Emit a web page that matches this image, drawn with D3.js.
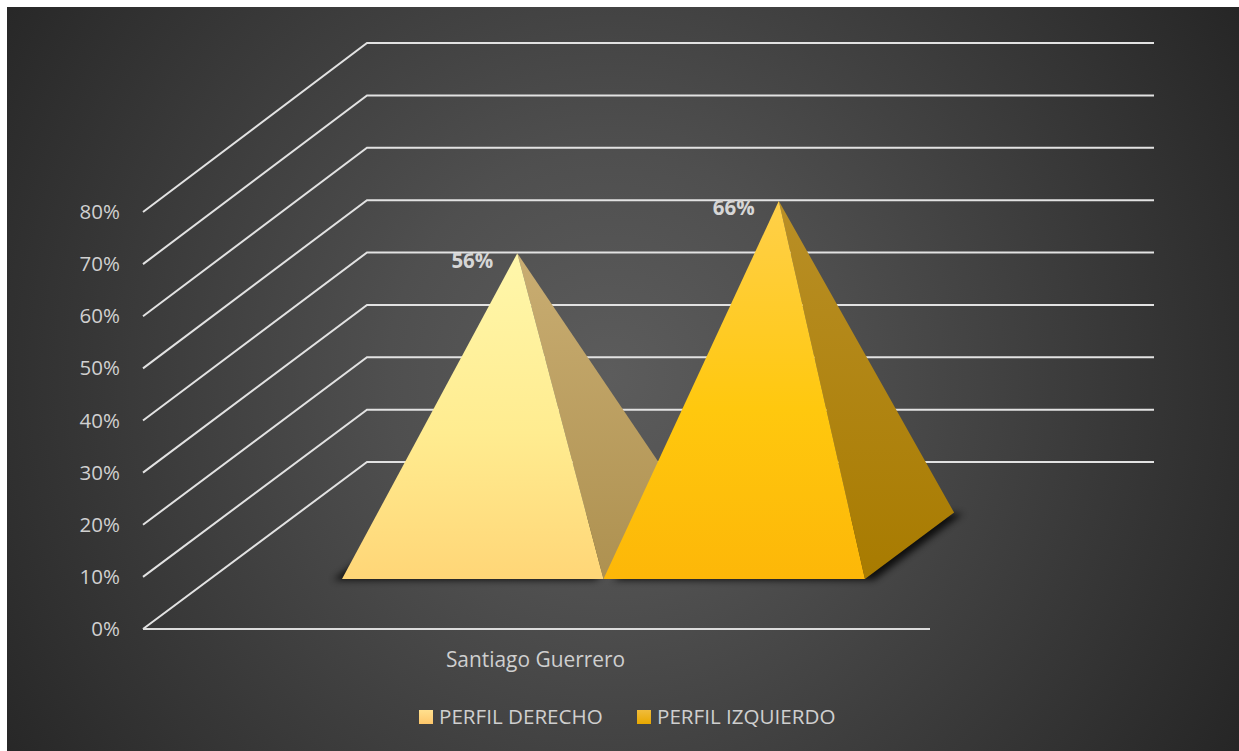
<!DOCTYPE html>
<html>
<head>
<meta charset="utf-8">
<script src="https://cdnjs.cloudflare.com/ajax/libs/d3/7.8.5/d3.min.js"></script>
<style>
html,body{margin:0;padding:0;background:#fff;overflow:hidden}
svg{display:block}
text{font-family:"Open Sans",sans-serif}
</style>
</head>
<body>
<svg id="chart" width="1239" height="751"></svg>
<script>
// Pyramid chart: right and left profile percentages for one person.
const categories = ["Santiago Guerrero"];
const seriesNames = ["PERFIL DERECHO", "PERFIL IZQUIERDO"];
const seriesValues = [56, 66];
const axisTicks = [0, 10, 20, 30, 40, 50, 60, 70, 80];

const svg = d3.select("#chart");
const defs = svg.append("defs");

// Projection: front and back planes have their own vertical scales, depth blends them
const y = d3.scaleLinear().domain([0, 80]).range([629, 212]);
const yBack = d3.scaleLinear().domain([0, 80]).range([462, 43]);
const categoryX = d3.scaleBand().domain(categories).range([143, 930]);
const seriesX = d3.scaleBand().domain(seriesNames)
  .range([categoryX(categories[0]), categoryX(categories[0]) + categoryX.bandwidth()])
  .paddingInner(0).paddingOuter(0.505);
const depthX = d3.scaleLinear().domain([0, 1]).range([0, 224]);
const baseDepth = { front: 0.299, back: 0.697 };

const project = (xPos, value, depth) => [
  xPos + depthX(depth),
  y(value) + (yBack(value) - y(value)) * depth
];

// Panel background
const bg = defs.append("radialGradient").attr("id", "panelBg")
  .attr("gradientUnits", "userSpaceOnUse")
  .attr("cx", 610).attr("cy", 375).attr("r", 740);
[[0, "#5c5c5c"], [0.3, "#4f4f4f"], [0.68, "#383838"], [1, "#252525"]].forEach(([o, c]) =>
  bg.append("stop").attr("offset", o).attr("stop-color", c));
svg.append("rect").attr("x", 7).attr("y", 7).attr("width", 1232).attr("height", 744)
  .attr("fill", "url(#panelBg)");

// Gridlines on the side wall and the back wall
const wallLine = d3.line();
const xFront = categoryX.range();
svg.append("g").selectAll("path").data(axisTicks).join("path")
  .attr("d", v => wallLine([project(xFront[0], v, 0), project(xFront[0], v, 1), project(xFront[1], v, 1)]))
  .attr("fill", "none").attr("stroke", "#e2e2e2").attr("stroke-width", 2);

// Front edge of the floor
svg.append("path")
  .attr("d", wallLine([project(xFront[0], 0, 0), project(xFront[1], 0, 0)]))
  .attr("fill", "none").attr("stroke", "#dcdcdc").attr("stroke-width", 2);

// Value axis
const axis = d3.axisLeft(y).tickValues(axisTicks).tickFormat(d => d + "%").tickSize(0).tickPadding(23);
const axisG = svg.append("g").attr("transform", `translate(${xFront[0]},0)`).call(axis);
axisG.select(".domain").remove();
axisG.selectAll("text").attr("fill", "#d0d0d0").style("font-size", "20.5px").style("font-family", '"Open Sans",sans-serif');

// Soft shadow under the pyramids
const blur = defs.append("filter").attr("id", "baseShadow")
  .attr("x", "-20%").attr("y", "-20%").attr("width", "140%").attr("height", "140%");
blur.append("feGaussianBlur").attr("stdDeviation", 3.5);

// Face gradients per series
const faceColors = [
  { front: [[0, "#fff7ab"], [0.55, "#ffec90"], [1, "#ffd677"]], side: [[0, "#c9ad72"], [1, "#ae9150"]] },
  { front: [[0, "#ffd04a"], [0.55, "#ffc80e"], [1, "#fdb708"]], side: [[0, "#b98f26"], [1, "#a87b00"]] }
];
seriesNames.forEach((name, i) => {
  ["front", "side"].forEach(face => {
    const g = defs.append("linearGradient").attr("id", `${face}${i}`)
      .attr("x1", 0).attr("y1", 0).attr("x2", 0).attr("y2", 1);
    faceColors[i][face].forEach(([o, c]) =>
      g.append("stop").attr("offset", o).attr("stop-color", c));
  });
});

const barWidth = seriesX.bandwidth();
const closed = pts => d3.line()(pts) + "Z";

const pyramids = svg.append("g").selectAll("g")
  .data(seriesNames.map((name, i) => ({ name, i, value: seriesValues[i] })))
  .join("g");

const corners = d => {
  const x0 = seriesX(d.name), x1 = x0 + barWidth;
  return {
    fl: project(x0, 0, baseDepth.front),
    fr: project(x1, 0, baseDepth.front),
    br: project(x1, 0, baseDepth.back),
    bl: project(x0, 0, baseDepth.back),
    apex: project(x0 + barWidth / 2, d.value, (baseDepth.front + baseDepth.back) / 2)
  };
};

// The shadow sits beneath every face
pyramids.append("path")
  .attr("d", d => {
    const c = corners(d);
    return closed([c.fl, c.fr, c.br, c.bl].map(([px, py]) => [px + (d.i ? 9 : -9), py + 1]));
  })
  .attr("fill", "#000").attr("opacity", 0.8).attr("filter", "url(#baseShadow)");

pyramids.append("path")
  .attr("d", d => { const c = corners(d); return closed([c.apex, c.fr, c.br]); })
  .attr("fill", d => `url(#side${d.i})`);

pyramids.append("path")
  .attr("d", d => { const c = corners(d); return closed([c.apex, c.fl, c.fr]); })
  .attr("fill", d => `url(#front${d.i})`);

// Value labels beside each apex
pyramids.append("text")
  .attr("x", d => corners(d).apex[0] - 24)
  .attr("y", d => corners(d).apex[1] + 14.5)
  .attr("text-anchor", "end")
  .attr("font-size", 20.5).attr("font-weight", 700)
  .attr("fill", "#d6d6d6")
  .text(d => d.value + "%");

// Category label
svg.append("text")
  .attr("x", categoryX(categories[0]) + categoryX.bandwidth() / 2 - 1)
  .attr("y", 667)
  .attr("text-anchor", "middle").attr("font-size", 20.9).attr("fill", "#cfcfcf")
  .text(categories[0]);

// Legend
const legendX = d3.scaleOrdinal().domain(seriesNames).range([419, 637]);
const swatchColors = [["#ffe08e", "#fdc66a"], ["#f0bc3c", "#e8a800"]];
seriesNames.forEach((name, i) => {
  const g = defs.append("linearGradient").attr("id", `swatch${i}`)
    .attr("x1", 0).attr("y1", 0).attr("x2", 0).attr("y2", 1);
  swatchColors[i].forEach((c, k) => g.append("stop").attr("offset", k).attr("stop-color", c));
});
const legend = svg.append("g").selectAll("g").data(seriesNames).join("g")
  .attr("transform", d => `translate(${legendX(d)},710)`);
legend.append("rect").attr("width", 14).attr("height", 14)
  .attr("fill", (d, i) => `url(#swatch${i})`);
legend.append("text").attr("x", 20).attr("y", 14)
  .attr("font-size", 20.6).attr("fill", "#cfcfcf").text(d => d);
</script>
</body>
</html>
